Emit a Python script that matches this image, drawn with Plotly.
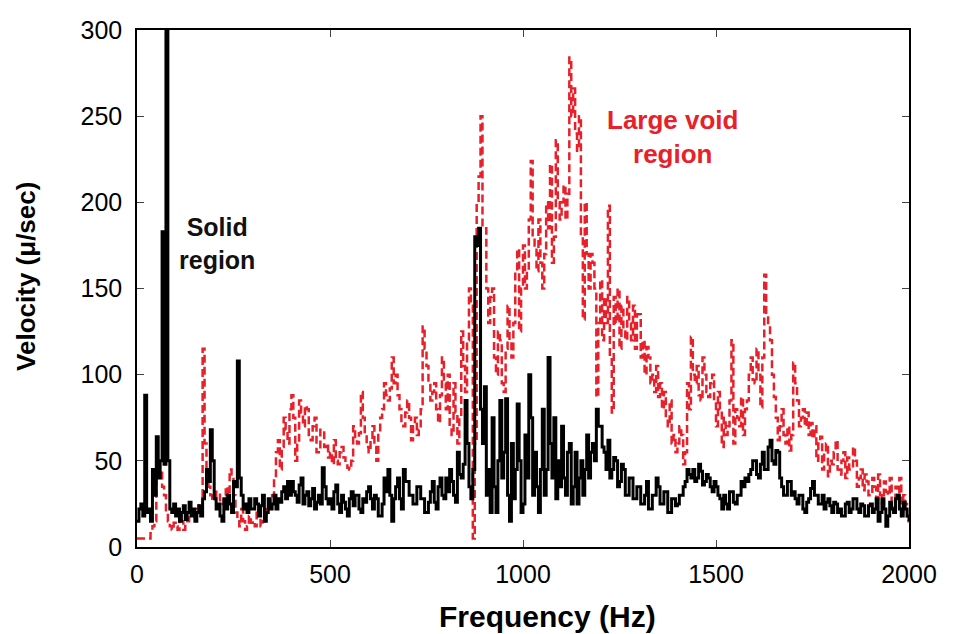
import plotly.graph_objects as go

# frequency bins, 5 Hz apart
freq = list(range(0, 2001, 5))

# solid region (black), one value per bin, 20 bins per row = 100 Hz
solid = [
    15, 22, 25, 18, 88, 20, 22, 15, 45, 30, 64, 40, 50, 183, 48, 305, 50, 22, 20, 25,
    18, 22, 15, 20, 24, 16, 20, 26, 18, 22, 15, 20, 24, 18, 28, 32, 45, 38, 68, 50,
    28, 22, 25, 18, 15, 28, 22, 30, 25, 20, 38, 35, 108, 40, 30, 22, 25, 20, 28, 22,
    22, 28, 25, 18, 24, 30, 15, 20, 28, 22, 25, 30, 22, 28, 26, 32, 35, 28, 38, 30,
    38, 32, 30, 26, 36, 40, 25, 30, 32, 24, 28, 34, 22, 26, 30, 25, 46, 35, 28, 25,
    28, 22, 32, 36, 25, 20, 30, 26, 22, 18, 28, 32, 24, 30, 30, 22, 20, 28, 26, 32,
    35, 28, 22, 30, 28, 18, 18, 25, 40, 32, 45, 30, 15, 28, 35, 40, 28, 22, 45, 38,
    38, 30, 30, 25, 25, 35, 35, 28, 28, 20, 20, 26, 32, 38, 26, 22, 35, 40, 30, 28,
    40, 32, 45, 38, 30, 26, 55, 42, 40, 48, 85, 60, 35, 28, 45, 180, 175, 185, 80, 60,
    93, 30, 45, 20, 75, 35, 20, 50, 85, 40, 55, 86, 30, 15, 60, 28, 45, 83, 50, 20,
    25, 65, 40, 100, 75, 30, 55, 35, 20, 45, 80, 30, 45, 110, 60, 40, 75, 28, 50, 35,
    70, 40, 30, 55, 60, 25, 35, 55, 25, 40, 50, 30, 45, 65, 40, 55, 60, 50, 80, 70,
    70, 58, 55, 45, 62, 40, 45, 52, 50, 35, 38, 48, 45, 30, 30, 40, 40, 28, 28, 35,
    35, 25, 25, 30, 38, 22, 22, 30, 30, 40, 35, 25, 25, 32, 32, 20, 20, 28, 28, 24,
    25, 30, 30, 35, 38, 45, 42, 40, 45, 38, 40, 48, 44, 36, 38, 42, 40, 35, 32, 38,
    35, 30, 28, 22, 30, 25, 22, 32, 32, 26, 25, 30, 30, 38, 35, 40, 38, 42, 45, 50,
    50, 42, 40, 48, 55, 45, 45, 58, 62, 50, 48, 56, 55, 40, 35, 30, 30, 38, 38, 30,
    32, 28, 25, 30, 30, 22, 20, 26, 28, 34, 38, 30, 30, 25, 25, 30, 22, 26, 28, 24,
    20, 26, 25, 20, 22, 18, 18, 25, 26, 20, 22, 28, 28, 22, 20, 25, 24, 18, 18, 24,
    25, 20, 22, 28, 15, 20, 28, 22, 12, 18, 26, 22, 20, 28, 30, 22, 18, 26, 22, 18,
    15,
]

# large void region (red dashed)
void = [
    5, 5, 5, 5, 5, 5, 5, 8, 12, 15, 40, 45, 45, 35, 30, 20, 15, 12, 10, 14,
    12, 10, 18, 15, 10, 14, 15, 20, 20, 16, 18, 22, 25, 20, 115, 60, 45, 35, 30, 28,
    28, 32, 32, 25, 25, 30, 35, 30, 45, 42, 30, 20, 15, 12, 22, 15, 10, 12, 18, 14,
    15, 12, 22, 18, 12, 15, 18, 22, 25, 28, 30, 40, 55, 62, 45, 58, 75, 68, 60, 80,
    88, 75, 50, 60, 85, 78, 70, 82, 80, 65, 62, 70, 75, 55, 55, 68, 68, 58, 60, 52,
    55, 48, 62, 50, 48, 55, 58, 52, 50, 46, 45, 50, 70, 62, 60, 66, 90, 75, 65, 58,
    55, 62, 70, 58, 50, 66, 75, 80, 95, 88, 85, 92, 110, 95, 100, 88, 80, 72, 70, 78,
    85, 75, 62, 70, 75, 65, 68, 80, 128, 115, 105, 95, 85, 90, 95, 80, 72, 88, 110, 95,
    80, 100, 70, 65, 95, 78, 60, 75, 125, 105, 90, 120, 150, 140, 5, 60, 200, 215, 250, 185,
    185, 150, 130, 145, 150, 110, 100, 125, 120, 95, 90, 115, 140, 120, 110, 130, 160, 173, 125, 150,
    175, 150, 160, 190, 224, 180, 175, 160, 190, 165, 150, 170, 200, 185, 222, 165, 180, 236, 200, 190,
    200, 210, 190, 205, 284, 250, 266, 240, 230, 250, 180, 132, 200, 170, 150, 170, 165, 150, 87, 130,
    155, 120, 145, 130, 198, 110, 78, 145, 130, 150, 115, 140, 125, 120, 145, 130, 120, 140, 115, 135,
    135, 110, 120, 100, 116, 110, 95, 100, 90, 105, 87, 95, 80, 90, 75, 70, 85, 60, 65, 55,
    60, 70, 65, 48, 55, 95, 80, 122, 100, 95, 105, 88, 85, 110, 100, 90, 87, 95, 100, 85,
    70, 90, 80, 58, 75, 65, 70, 85, 120, 60, 80, 75, 70, 87, 65, 80, 85, 100, 110, 97,
    95, 115, 100, 81, 110, 158, 135, 130, 120, 100, 87, 75, 62, 70, 80, 65, 60, 70, 56, 65,
    107, 95, 85, 70, 75, 80, 70, 78, 65, 72, 63, 70, 50, 60, 64, 45, 55, 60, 41, 50,
    48, 55, 62, 45, 42, 50, 55, 40, 52, 45, 45, 58, 50, 35, 40, 45, 33, 42, 38, 30,
    30, 40, 35, 28, 42, 30, 25, 38, 32, 30, 40, 25, 22, 35, 28, 40, 18, 30, 25, 15,
    15,
]

x_ticks = [0, 500, 1000, 1500, 2000]
y_ticks = [0, 50, 100, 150, 200, 250, 300]

fig = go.Figure()
fig.add_trace(go.Scatter(x=freq, y=void, mode='lines', line_shape='hv',
                         line=dict(color='#e8202a', width=2.5, dash='8px,4px'),
                         name='Large void region'))
fig.add_trace(go.Scatter(x=freq, y=solid, mode='lines', line_shape='hv',
                         line=dict(color='black', width=3),
                         name='Solid region'))

fig.add_annotation(x=207, y=176, text='<b>Solid<br>region</b>', showarrow=False,
                   font=dict(size=25, color='#111111', family='Liberation Sans'))
fig.add_annotation(x=1386, y=238, text='<b>Large void<br>region</b>', showarrow=False,
                   font=dict(size=26, color='#e8202a', family='Liberation Sans'))

# axis titles as annotations, they sit a little off centre in the original
fig.add_annotation(xref='paper', yref='paper', x=0.532, y=-0.135,
                   text='<b>Frequency (Hz)</b>', showarrow=False,
                   xanchor='center', yanchor='middle', font=dict(size=30))
fig.add_annotation(xref='paper', yref='paper', x=-0.144, y=0.524,
                   text='<b>Velocity (μ/sec)</b>', showarrow=False, textangle=-90,
                   xanchor='center', yanchor='middle', font=dict(size=26))

# page body has an 8px margin, so the margins are shifted to put the box in place
fig.update_layout(
    width=953, height=634,
    margin=dict(l=129, r=52, t=22, b=95),
    paper_bgcolor='white', plot_bgcolor='white',
    showlegend=False,
    font=dict(family='Liberation Sans', color='black'),
)
fig.update_xaxes(range=[0, 2000], tickvals=x_ticks, ticks='inside', ticklen=7,
                 showline=True, linecolor='black', linewidth=1.5, mirror='allticks',
                 showgrid=False, zeroline=False, tickfont=dict(size=25),
                 ticklabelstandoff=4, automargin=False)
fig.update_yaxes(range=[0, 300], tickvals=y_ticks, ticks='inside', ticklen=7,
                 showline=True, linecolor='black', linewidth=1.5, mirror='allticks',
                 showgrid=False, zeroline=False, tickfont=dict(size=25),
                 ticklabelstandoff=8, automargin=False)

fig.write_html("out.html")
